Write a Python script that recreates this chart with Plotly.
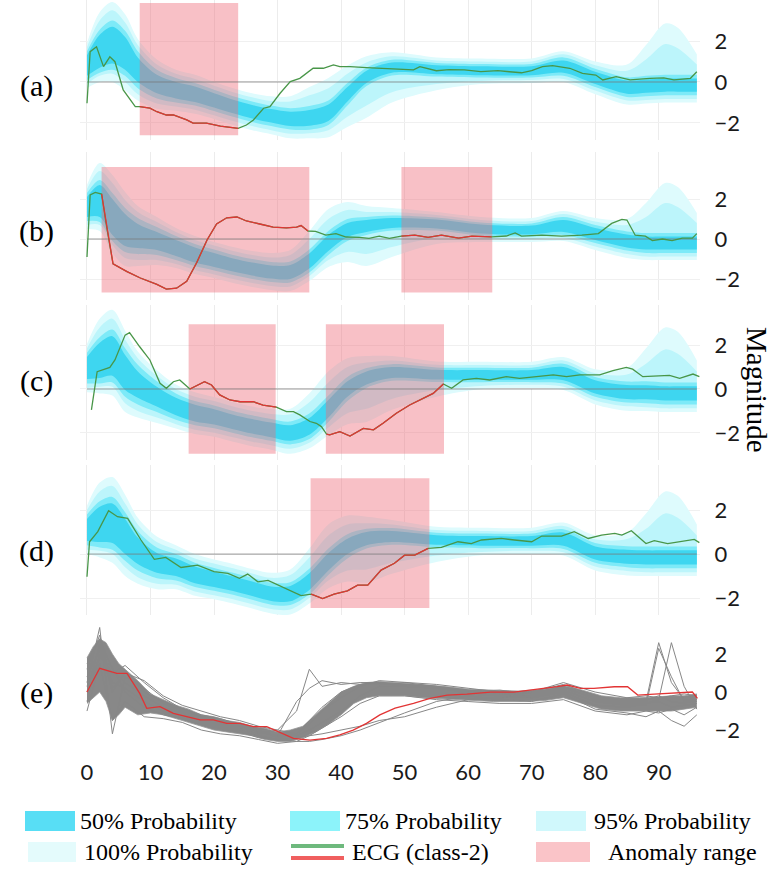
import plotly.graph_objects as go

W, H = 777, 869

# ---------------- data ----------------
FAN_X = [0, 2, 4, 6, 8, 11, 14, 17, 20, 23, 26, 29, 32, 35, 38, 41, 44, 48, 55, 62, 70, 75, 80, 85, 88, 91, 93, 96]

CENTER_A = [0.8, 1.5, 1.8, 1.4, 0.6, -0.1, -0.4, -0.6, -0.9, -1.2, -1.45, -1.65, -1.8, -1.75, -1.5, -0.6, 0.25, 0.7, 0.6, 0.55, 0.55, 0.75, 0.2, -0.25, -0.2, -0.15, -0.15, -0.15]
CENTER_B = [1.6, 1.9, 1.1, 0.45, 0.15, -0.1, -0.45, -0.8, -1.05, -1.3, -1.5, -1.65, -1.65, -1.1, -0.2, 0.45, 0.65, 0.8, 0.75, 0.5, 0.45, 0.65, 0.25, -0.1, -0.2, -0.2, -0.2, -0.2]
CENTER_C = [0.95, 1.3, 1.5, 0.75, 0.2, -0.35, -0.8, -1.1, -1.27, -1.5, -1.7, -1.86, -2.0, -1.7, -0.9, 0.0, 0.5, 0.75, 0.65, 0.64, 0.64, 0.7, 0.1, -0.14, -0.15, -0.2, -0.2, -0.2]
CENTER_D = [1.1, 1.35, 1.4, 0.8, 0.15, -0.4, -0.6, -0.95, -1.15, -1.35, -1.58, -1.8, -1.8, -1.25, -0.35, 0.35, 0.7, 0.8, 0.64, 0.6, 0.6, 0.68, 0.05, -0.12, -0.15, -0.15, -0.15, -0.15]

HALF_50 = [0.5, 0.8, 0.9, 0.8, 0.6, 0.45, 0.4, 0.38, 0.35, 0.33, 0.33, 0.33, 0.35, 0.38, 0.4, 0.35, 0.3, 0.25, 0.22, 0.22, 0.22, 0.3, 0.3, 0.32, 0.32, 0.32, 0.32, 0.32]
HALF_75 = [0.7, 1.05, 1.2, 1.1, 0.9, 0.7, 0.6, 0.55, 0.52, 0.5, 0.5, 0.5, 0.52, 0.58, 0.6, 0.55, 0.45, 0.38, 0.33, 0.33, 0.33, 0.45, 0.45, 0.48, 0.5, 0.5, 0.5, 0.5]
UP_95 = [0.9, 1.5, 1.7, 1.5, 1.2, 0.95, 0.8, 0.75, 0.72, 0.7, 0.7, 0.72, 0.85, 1.1, 1.2, 1.0, 0.7, 0.55, 0.45, 0.45, 0.45, 0.6, 0.62, 0.8, 1.3, 2.0, 1.8, 1.0]
LO_95 = [0.9, 1.2, 1.4, 1.4, 1.2, 0.95, 0.8, 0.75, 0.72, 0.7, 0.7, 0.7, 0.72, 0.75, 0.85, 1.1, 1.4, 1.2, 0.7, 0.5, 0.45, 0.6, 0.62, 0.65, 0.68, 0.68, 0.68, 0.68]
UP_100 = [1.1, 1.9, 2.1, 1.9, 1.5, 1.2, 1.0, 0.95, 0.9, 0.9, 0.9, 0.95, 1.1, 1.5, 1.7, 1.4, 1.0, 0.75, 0.6, 0.6, 0.6, 0.75, 0.8, 1.1, 2.0, 3.0, 2.8, 1.5]
LO_100 = [1.1, 1.5, 1.8, 1.8, 1.5, 1.2, 1.0, 0.95, 0.9, 0.9, 0.9, 0.9, 0.95, 1.0, 1.2, 1.6, 2.0, 1.7, 1.0, 0.65, 0.6, 0.75, 0.8, 0.85, 0.85, 0.85, 0.85, 0.85]

ECG_A_X = [0, 0.5, 1.5, 2.6, 3.6, 4.4, 5.7, 7.6, 8.3, 9.9, 11, 12.5, 13.6, 15.7, 16.7, 18.8, 21, 22.5, 23.8, 25.1, 26.2, 27.8, 28.8, 30.4, 32, 33.5, 35.6, 37.2, 38.8, 39.8, 41.4, 44, 46, 48, 51.4, 52.4, 55, 57, 59.4, 62, 64.7, 66.5, 68.4, 70, 71.7, 73.3, 76, 78, 80.1, 81.2, 83.3, 85.5, 88.6, 90.8, 92.4, 95, 96]
ECG_A_Y = [-1.04, 1.48, 1.72, 0.75, 1.23, 0.99, -0.39, -1.2, -1.2, -1.28, -1.45, -1.61, -1.61, -1.85, -2.01, -2.01, -2.15, -2.21, -2.26, -2.1, -1.85, -1.28, -1.2, -0.55, 0.02, 0.18, 0.67, 0.67, 0.83, 0.75, 0.75, 0.7, 0.67, 0.62, 0.59, 0.75, 0.55, 0.6, 0.59, 0.51, 0.55, 0.5, 0.45, 0.55, 0.75, 0.8, 0.67, 0.42, 0.34, 0.1, 0.26, 0.1, 0.18, 0.2, 0.1, 0.18, 0.5]

ECG_B_X = [0, 0.5, 1.3, 2.1, 2.3, 3.1, 4.1, 6.3, 8.4, 11, 12.5, 14.1, 15.7, 17.3, 18.9, 20.4, 22, 23.6, 25.1, 27.2, 29.3, 31.4, 33, 33.7, 34.8, 36, 37.6, 39.2, 40.8, 42.9, 44.4, 46, 47.6, 49.5, 51.6, 53.7, 55.8, 58.5, 60.6, 63.7, 66, 67.4, 68.4, 71.6, 74.7, 77.9, 80.5, 82.6, 84.2, 85, 86.3, 87.9, 89, 90.6, 92.1, 93.7, 95.3, 96]
ECG_B_Y = [-0.9, 2.2, 2.33, 2.25, 2.25, 0.59, -1.24, -1.63, -1.95, -2.27, -2.51, -2.46, -2.11, -1.16, -0.05, 0.75, 1.06, 1.1, 0.9, 0.75, 0.59, 0.56, 0.59, 0.67, 0.4, 0.38, 0.19, 0.27, 0.1, 0.08, 0.03, 0.14, 0.03, 0.14, 0.19, 0.08, 0.19, 0.04, 0.14, 0.11, 0.15, 0.3, 0.14, 0.19, 0.14, 0.19, 0.27, 0.78, 0.98, 0.95, 0.19, 0.14, -0.08, 0.0, -0.08, 0.04, 0.04, 0.27]

ECG_C_X = [0.7, 1.6, 3.6, 4.4, 6.0, 6.7, 8.3, 9.9, 11.5, 12.5, 13.6, 14.6, 16.2, 17.2, 18.5, 19.6, 20.9, 22.5, 24.1, 26.2, 27.7, 29.3, 29.8, 31.4, 32.5, 33.5, 35.1, 36.1, 36.9, 37.7, 38.2, 39.8, 41.4, 43.5, 45.1, 46.6, 48.7, 50.8, 52.9, 54.5, 56.1, 57.4, 59.2, 61.3, 63.4, 66.0, 68.1, 71.3, 73.4, 75.5, 77.6, 80.7, 82.8, 84.9, 85.9, 87.5, 89.6, 91.7, 93.3, 95.4, 96.4]
ECG_C_Y = [-0.95, 0.79, 0.98, 1.32, 2.45, 2.56, 1.92, 1.32, 0.26, 0.03, 0.33, 0.41, 0.0, 0.14, 0.33, 0.18, -0.27, -0.5, -0.58, -0.58, -0.73, -0.8, -0.83, -1.03, -1.03, -1.18, -1.48, -1.56, -1.71, -2.05, -2.09, -1.94, -2.14, -1.79, -1.86, -1.56, -1.1, -0.73, -0.42, -0.2, 0.23, 0.03, 0.41, 0.48, 0.41, 0.56, 0.48, 0.56, 0.64, 0.56, 0.64, 0.64, 0.83, 0.98, 0.9, 0.56, 0.6, 0.62, 0.48, 0.68, 0.56]

ECG_D_X = [0, 0.4, 1.7, 3.4, 4.8, 6.4, 8.5, 10.6, 12.4, 14.8, 17.4, 20.0, 22.2, 24.0, 25.3, 26.9, 28.5, 30.6, 32.2, 33.7, 35.3, 37.1, 38.9, 41.0, 42.6, 44.2, 46.3, 48.4, 50.0, 51.6, 53.7, 55.8, 58.4, 60.5, 62.1, 65.2, 67.3, 70.0, 71.6, 74.7, 76.7, 78.9, 81.0, 83.1, 84.2, 85.7, 88.0, 89.3, 91.4, 93.5, 95.6, 96.4]
ECG_D_Y = [-1.03, 0.56, 1.02, 1.97, 1.7, 1.62, 0.64, -0.24, -0.15, -0.61, -0.5, -0.8, -0.88, -1.1, -0.91, -1.26, -1.2, -1.48, -1.67, -1.89, -1.82, -2.02, -1.82, -1.67, -1.41, -1.41, -0.73, -0.42, -0.05, -0.05, 0.26, 0.3, 0.56, 0.48, 0.64, 0.71, 0.64, 0.56, 0.82, 0.82, 1.02, 0.71, 0.86, 0.94, 0.86, 1.06, 0.48, 0.61, 0.48, 0.56, 0.67, 0.52]

ECG_E_X = [0, 2.0, 4.7, 6.3, 8.3, 9.4, 11.5, 13.6, 15.7, 17.8, 19.9, 22.0, 24.1, 26.2, 28.3, 30.9, 32.5, 35.1, 37.7, 39.8, 41.9, 44.0, 46.1, 48.5, 51.4, 54.0, 56.7, 59.8, 63.5, 67.2, 69.8, 71.9, 74.0, 75.6, 77.7, 79.8, 83.0, 85.1, 86.7, 89.3, 92.5, 95.3, 96.1]
ECG_E_Y = [0.0, 1.25, 0.98, 0.98, -0.07, -0.86, -0.77, -1.12, -1.3, -1.47, -1.47, -1.65, -1.65, -1.82, -1.82, -2.18, -2.44, -2.53, -2.44, -2.26, -2.0, -1.65, -1.2, -0.85, -0.6, -0.33, -0.16, -0.11, 0.0, 0.0, 0.1, 0.19, 0.28, 0.37, 0.19, 0.19, 0.28, 0.28, -0.16, -0.11, -0.04, 0.0, -0.33]

# anomaly ranges (x start, x end)
ANOM_A = [(8.3, 23.8)]
ANOM_B = [(2.3, 35.0), (49.5, 63.8)]
ANOM_C = [(16.0, 29.7), (37.6, 56.2)]
ANOM_D = [(35.2, 53.9)]

# panel (e): dense bundle envelope and individual class-2 samples
CORE_X = [0, 1, 2, 3, 4, 5, 6, 8, 10, 12, 14, 16, 18, 20, 22, 24, 26, 28, 30, 32, 34, 36, 38, 40, 42, 44, 46, 48, 50, 53, 56, 60, 64, 68, 72, 75, 78, 81, 84, 87, 90, 92, 94, 96]
CORE_LO = [-0.6, -0.3, 0.0, -0.5, -1.5, -1.2, -0.8, -1.2, -1.1, -1.2, -1.4, -1.6, -1.8, -2.0, -2.1, -2.2, -2.3, -2.5, -2.6, -2.6, -2.4, -2.1, -1.7, -1.2, -0.6, -0.3, -0.2, -0.2, -0.2, -0.3, -0.35, -0.45, -0.5, -0.5, -0.45, -0.3, -0.6, -0.9, -1.0, -1.0, -1.0, -1.0, -0.9, -0.8]
CORE_HI = [1.8, 2.4, 2.8, 2.6, 2.0, 1.5, 1.2, 0.6, -0.1, -0.4, -0.7, -0.9, -1.2, -1.3, -1.5, -1.6, -1.8, -1.9, -2.1, -2.0, -1.8, -1.2, -0.6, 0.0, 0.3, 0.5, 0.55, 0.5, 0.45, 0.35, 0.3, 0.15, 0.1, 0.05, 0.15, 0.35, 0.1, -0.2, -0.3, -0.3, -0.25, -0.2, -0.2, -0.1]

SAMPLE_X = [0, 2, 4, 6, 9, 12, 15, 18, 21, 24, 27, 30, 33, 35, 37, 40, 43, 46, 50, 55, 60, 65, 70, 75, 80, 85, 88, 90, 92, 94, 96]
SAMPLE_1 = [0.5, 3.4, -2.2, 0.8, 0.2, -0.6, -1.0, -1.3, -1.6, -1.8, -2.1, -2.3, -2.3, -2.0, -1.6, -1.0, -0.2, 0.3, 0.3, 0.2, 0.0, -0.1, -0.2, 0.1, -0.5, -0.7, -0.6, -0.5, -0.8, -0.7, -0.6]
SAMPLE_2 = [1.5, 2.8, 1.2, 0.5, -0.2, -0.8, -1.1, -1.5, -1.7, -1.9, -2.2, -2.0, -1.0, 1.2, 0.3, 0.5, 0.4, 0.5, 0.3, 0.2, 0.0, 0.1, -0.1, 0.3, -0.4, -0.6, -0.5, 2.6, 0.5, -0.4, -0.5]
SAMPLE_3 = [-0.5, 2.0, 1.0, 1.4, 0.5, -0.3, -0.9, -1.2, -1.4, -1.7, -2.0, -2.4, -2.2, -1.5, -0.8, 0.0, 0.4, 0.4, 0.5, 0.3, -0.1, -0.2, -0.3, 0.0, -0.7, -0.8, -0.6, -0.4, 2.6, 0.3, -0.9]
SAMPLE_4 = [0.8, 2.2, 0.5, 0.2, -0.5, -1.0, -1.3, -1.6, -1.8, -2.0, -2.3, -2.5, -2.6, -2.6, -2.5, -2.3, -2.0, -1.6, -1.1, -0.5, -0.2, -0.4, -0.5, -0.1, -0.9, -1.1, -1.3, -1.0, -1.5, -1.8, -1.2]
SAMPLE_5 = [0.0, 2.5, 0.0, 1.0, 0.6, -0.2, -0.7, -1.0, -1.3, -1.5, -1.8, -2.0, -2.2, -1.7, -1.0, -0.3, 0.3, 0.6, 0.5, 0.4, 0.2, 0.0, 0.0, 0.5, 0.0, -0.3, -0.2, -0.3, -0.2, -0.1, -0.2]
SAMPLE_6 = [-1.0, 1.5, -1.5, -0.5, -1.3, -1.4, -1.6, -2.0, -2.2, -2.3, -2.5, -2.7, -2.6, -2.3, -1.9, -1.3, -0.6, -0.2, -0.2, -0.4, -0.5, -0.6, -0.6, -0.4, -1.0, -1.2, -1.0, -1.1, -0.9, -1.2, -0.8]
SAMPLE_7 = [0.3, 1.8, 1.3, 0.0, -0.8, -1.2, -1.4, -1.7, -1.9, -2.1, -2.4, -2.5, -2.4, -2.3, -2.2, -2.0, -1.8, -1.5, -1.3, -0.8, -0.4, -0.3, -0.2, 0.2, -0.3, -0.5, -0.4, -0.2, -0.5, -0.6, -0.4]
SAMPLE_8 = [1.2, 3.0, 0.2, 1.0, 0.0, -0.5, -0.9, -1.3, -1.5, -1.8, -2.1, -2.3, -0.5, 0.2, 0.6, 0.4, 0.5, 0.5, 0.4, 0.3, 0.1, -0.1, 0.0, 0.4, -0.2, -0.6, -0.7, 2.3, 0.8, -0.5, -0.4]

X_TICKS = [0, 10, 20, 30, 40, 50, 60, 70, 80, 90]
Y_TICKS = [-2, 0, 2]
PANEL_LABELS = ["(a)", "(b)", "(c)", "(d)", "(e)"]
LEGEND_LABELS = ["50% Probability", "75% Probability", "95% Probability",
                 "100% Probability", "ECG (class-2)", "Anomaly range"]

# ---------------- styles / layout ----------------
C50 = "rgb(62,214,240)"
C75 = "rgb(125,234,248)"
C95 = "rgb(188,245,251)"
C100 = "rgb(222,251,253)"
PINK = "rgba(238,105,118,0.42)"
GREEN = "rgb(72,150,72)"
RED = "rgb(226,52,52)"
SERIF = "Liberation Serif, Times New Roman, serif"
SANS = "Lato"

# panel pixel extents (top, bottom) and y ranges
PANELS = [
    dict(top=0, bot=140, yr=[-2.83, 4.0], ylab=86, rect=[-2.6, 3.85]),
    dict(top=152, bot=300, yr=[-3.05, 4.35], ylab=231, rect=[-2.67, 3.6]),
    dict(top=305, bot=460, yr=[-3.23, 3.82], ylab=381, rect=[-2.95, 2.95]),
    dict(top=465, bot=615, yr=[-2.77, 4.05], ylab=551, rect=[-2.45, 3.45]),
    dict(top=625, bot=757, yr=[-3.42, 3.53], ylab=693, rect=None),
]
X_LEFT, X_RIGHT = 80, 700


def px(xp):
    return xp / W


def py(yp):
    return 1 - yp / H


fig = go.Figure()


def ax(i):
    return ("x" if i == 0 else f"x{i+1}"), ("y" if i == 0 else f"y{i+1}")


def add_band(i, center, up, lo, color):
    xa, ya = ax(i)
    upper = [c + u for c, u in zip(center, up)]
    lower = [c - l for c, l in zip(center, lo)]
    fig.add_trace(go.Scatter(x=FAN_X, y=lower, mode="lines", line=dict(width=0, shape="spline", smoothing=0.9),
                             xaxis=xa, yaxis=ya, hoverinfo="skip", showlegend=False))
    fig.add_trace(go.Scatter(x=FAN_X, y=upper, mode="lines", line=dict(width=0, shape="spline", smoothing=0.9),
                             fill="tonexty", fillcolor=color,
                             xaxis=xa, yaxis=ya, hoverinfo="skip", showlegend=False))


centers = [CENTER_A, CENTER_B, CENTER_C, CENTER_D]
ecgs = [(ECG_A_X, ECG_A_Y), (ECG_B_X, ECG_B_Y), (ECG_C_X, ECG_C_Y), (ECG_D_X, ECG_D_Y)]
anoms = [ANOM_A, ANOM_B, ANOM_C, ANOM_D]

for i in range(4):
    xa, ya = ax(i)
    cen = centers[i]
    add_band(i, cen, UP_100, LO_100, C100)
    add_band(i, cen, UP_95, LO_95, C95)
    add_band(i, cen, HALF_75, HALF_75, C75)
    add_band(i, cen, HALF_50, HALF_50, C50)
    ylo, yhi = PANELS[i]["rect"]
    for (a0, a1) in anoms[i]:
        fig.add_trace(go.Scatter(x=[a0, a0, a1, a1, a0], y=[ylo, yhi, yhi, ylo, ylo], mode="lines",
                                 line=dict(width=0), fill="toself", fillcolor=PINK,
                                 xaxis=xa, yaxis=ya, hoverinfo="skip", showlegend=False))
    fig.add_trace(go.Scatter(x=[0, 96], y=[0, 0], mode="lines", line=dict(color="rgba(120,120,120,0.75)", width=1),
                             xaxis=xa, yaxis=ya, hoverinfo="skip", showlegend=False))
    ex, ey = ecgs[i]
    fig.add_trace(go.Scatter(x=ex, y=ey, mode="lines", line=dict(color=GREEN, width=1.3),
                             xaxis=xa, yaxis=ya, showlegend=False))
    for (a0, a1) in anoms[i]:
        sx = [x for x in ex if a0 - 0.15 <= x <= a1 + 0.15]
        sy = [y for x, y in zip(ex, ey) if a0 - 0.15 <= x <= a1 + 0.15]
        fig.add_trace(go.Scatter(x=sx, y=sy, mode="lines", line=dict(color=RED, width=1.3),
                                 xaxis=xa, yaxis=ya, showlegend=False))

# panel (e)
xa, ya = ax(4)
fig.add_trace(go.Scatter(x=CORE_X, y=CORE_LO, mode="lines", line=dict(width=0.8, color="rgb(150,150,150)"),
                         xaxis=xa, yaxis=ya, hoverinfo="skip", showlegend=False))
fig.add_trace(go.Scatter(x=CORE_X, y=CORE_HI, mode="lines", line=dict(width=0.8, color="rgb(150,150,150)"),
                         fill="tonexty", fillcolor="rgba(115,115,115,0.85)",
                         xaxis=xa, yaxis=ya, hoverinfo="skip", showlegend=False))
for s in [SAMPLE_1, SAMPLE_2, SAMPLE_3, SAMPLE_4, SAMPLE_5, SAMPLE_6, SAMPLE_7, SAMPLE_8]:
    fig.add_trace(go.Scatter(x=SAMPLE_X, y=s, mode="lines", line=dict(color="rgb(135,135,135)", width=1),
                             xaxis=xa, yaxis=ya, hoverinfo="skip", showlegend=False))
fig.add_trace(go.Scatter(x=ECG_E_X, y=ECG_E_Y, mode="lines", line=dict(color=RED, width=1.3),
                         xaxis=xa, yaxis=ya, showlegend=False))

# axes
layout = dict(width=W, height=H, margin=dict(l=0, r=0, t=0, b=0),
              paper_bgcolor="white", plot_bgcolor="white", showlegend=False)
for i, p in enumerate(PANELS):
    xk = "xaxis" if i == 0 else f"xaxis{i+1}"
    yk = "yaxis" if i == 0 else f"yaxis{i+1}"
    is_e = (i == 4)
    layout[xk] = dict(domain=[px(X_LEFT), px(X_RIGHT)], range=[-1.1, 96.5], anchor=ax(i)[1],
                      tickvals=X_TICKS, showticklabels=is_e, showgrid=not is_e,
                      gridcolor="rgb(236,236,236)", gridwidth=1, zeroline=False, showline=False,
                      ticks="", tickfont=dict(family=SANS, size=22, color="#1a1a1a"))
    layout[yk] = dict(domain=[py(p["bot"]), py(p["top"])], range=p["yr"], anchor=ax(i)[0],
                      side="right", tickvals=Y_TICKS, showgrid=not is_e,
                      gridcolor="rgb(240,240,240)", zeroline=False, showline=False,
                      ticks="outside", ticklen=9, tickcolor="rgba(0,0,0,0)",
                      tickfont=dict(family=SANS, size=22, color="#1a1a1a"))
fig.update_layout(**layout)

annotations = []
for i, p in enumerate(PANELS):
    annotations.append(dict(xref="paper", yref="paper", x=px(36), y=py(p["ylab"]), text=PANEL_LABELS[i],
                            showarrow=False, xanchor="center", yanchor="middle",
                            font=dict(family=SERIF, size=30, color="black")))
annotations.append(dict(xref="paper", yref="paper", x=px(757), y=py(390), text="Magnitude", textangle=90,
                        showarrow=False, xanchor="center", yanchor="middle",
                        font=dict(family=SERIF, size=29, color="black")))

# legend (drawn manually to mimic two rows of three)
shapes = []
rows = [821, 852]
swatches = [(25, 75, "rgb(88,222,245)"), (290, 340, "rgb(140,243,250)"), (536, 586, "rgb(208,248,252)"),
            (28, 76, "rgb(228,251,252)"), None, (536, 590, "rgb(250,196,200)")]
text_x = [78, 343, 592, 82, 350, 606]
for k, lab in enumerate(LEGEND_LABELS):
    r = rows[k // 3]
    sw = swatches[k]
    if sw is not None:
        shapes.append(dict(type="rect", xref="paper", yref="paper", x0=px(sw[0]), x1=px(sw[1]),
                           y0=py(r + 10), y1=py(r - 10), fillcolor=sw[2], line=dict(width=0), layer="above"))
    else:
        shapes.append(dict(type="rect", xref="paper", yref="paper", x0=px(291), x1=px(344),
                           y0=py(r - 4), y1=py(r - 8), fillcolor="rgb(110,185,125)", line=dict(width=0)))
        shapes.append(dict(type="rect", xref="paper", yref="paper", x0=px(291), x1=px(344),
                           y0=py(r + 8), y1=py(r + 4), fillcolor="rgb(240,95,95)", line=dict(width=0)))
    annotations.append(dict(xref="paper", yref="paper", x=px(text_x[k]), y=py(r), text=lab,
                            showarrow=False, xanchor="left", yanchor="middle",
                            font=dict(family=SERIF, size=24, color="black")))

fig.update_layout(annotations=annotations, shapes=shapes)
fig.write_html("out.html")
